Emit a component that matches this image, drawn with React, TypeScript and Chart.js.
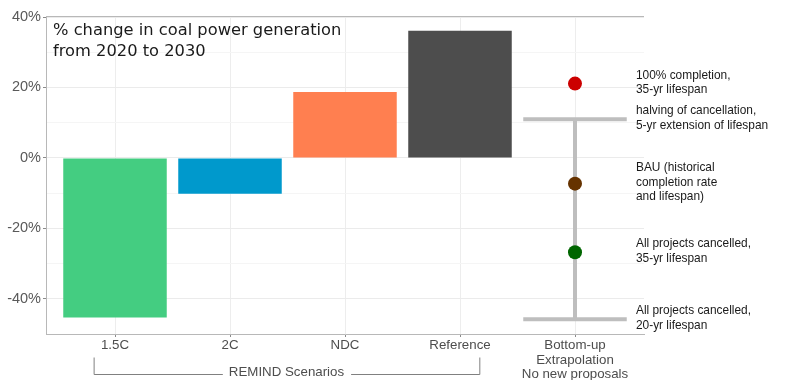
import React, { useEffect, useRef } from "react";
import { Chart, registerables } from "chart.js";

Chart.register(...registerables);

// ---------- data ----------
const categories: (string | string[])[] = [
  "1.5C",
  "2C",
  "NDC",
  "Reference",
  ["Bottom-up", "Extrapolation", "No new proposals"],
];
const barValues = [-45.3, -10.2, 18.7, 36.1];
const barColors = ["#44CD81", "#0099CC", "#FF7F50", "#4D4D4D"];

const pointCategory = 4;
const pointValues = [21.1, -7.3, -26.8];
const pointColors = ["#CC0000", "#663300", "#006600"];

const errorLow = -45.8;
const errorHigh = 11.0;

const annotationValues = [21.1, 11.0, -7.3, -26.8, -45.8];
const annotationLabels = [
  ["100% completion,", "35-yr lifespan"],
  ["halving of cancellation,", "5-yr extension of lifespan"],
  ["BAU (historical", "completion rate", "and lifespan)"],
  ["All projects cancelled,", "35-yr lifespan"],
  ["All projects cancelled,", "20-yr lifespan"],
];

const yTickLabels = [-40, -20, 0, 20, 40];
const titleLines = ["% change in coal power generation", "from 2020 to 2030"];
const groupLabel = "REMIND Scenarios";

// ---------- plugin ----------
const overlay = {
  id: "overlay",
  beforeDatasetsDraw(chart: any) {
    const { ctx, scales } = chart;
    const x = scales.x;
    const y = scales.y;
    const cx = x.getPixelForValue(pointCategory);
    const half = (x.getPixelForValue(1) - x.getPixelForValue(0)) * 0.45;
    const yt = y.getPixelForValue(errorHigh);
    const yb = y.getPixelForValue(errorLow);
    ctx.save();
    ctx.strokeStyle = "#BEBEBE";
    ctx.lineWidth = 4;
    ctx.beginPath();
    ctx.moveTo(cx, yt);
    ctx.lineTo(cx, yb);
    ctx.moveTo(cx - half, yt);
    ctx.lineTo(cx + half, yt);
    ctx.moveTo(cx - half, yb);
    ctx.lineTo(cx + half, yb);
    ctx.stroke();
    ctx.restore();
  },
  afterDraw(chart: any) {
    const { ctx, chartArea, scales } = chart;
    const x = scales.x;
    const y = scales.y;
    ctx.save();
    // top border
    ctx.strokeStyle = "#B8B8B8";
    ctx.lineWidth = 1;
    ctx.beginPath();
    ctx.moveTo(chartArea.left, chartArea.top + 0.5);
    ctx.lineTo(chartArea.right, chartArea.top + 0.5);
    ctx.stroke();

    // title
    ctx.fillStyle = "#1A1A1A";
    ctx.font = "16.3px 'DejaVu Sans'";
    ctx.textAlign = "left";
    ctx.textBaseline = "alphabetic";
    titleLines.forEach((t, i) => {
      ctx.fillText(t, chartArea.left + 7, chartArea.top + 19 + i * 20.7);
    });

    // annotations
    ctx.font = "11.9px 'Liberation Sans'";
    ctx.fillStyle = "#1A1A1A";
    ctx.textBaseline = "middle";
    const ax = x.getPixelForValue(pointCategory + 0.53);
    const lh = 14.5;
    annotationValues.forEach((v, i) => {
      const lines = annotationLabels[i];
      const cy = y.getPixelForValue(v) - 1;
      const start = cy - ((lines.length - 1) * lh) / 2;
      lines.forEach((l, j) => ctx.fillText(l, ax, start + j * lh));
    });

    // bracket
    const bl = x.getPixelForValue(-0.186);
    const br = x.getPixelForValue(3.168);
    const by = chartArea.bottom + 40;
    const bt = chartArea.bottom + 23.5;
    ctx.font = "13.3px 'Liberation Sans'";
    const tw = ctx.measureText(groupLabel).width;
    const mid = (bl + br) / 2;
    ctx.strokeStyle = "#808080";
    ctx.lineWidth = 1;
    ctx.beginPath();
    ctx.moveTo(bl + 0.5, bt);
    ctx.lineTo(bl + 0.5, by + 0.5);
    ctx.lineTo(mid - tw / 2 - 6, by + 0.5);
    ctx.moveTo(mid + tw / 2 + 7, by + 0.5);
    ctx.lineTo(br + 0.5, by + 0.5);
    ctx.lineTo(br + 0.5, bt);
    ctx.stroke();
    ctx.fillStyle = "#4D4D4D";
    ctx.textAlign = "center";
    ctx.textBaseline = "alphabetic";
    ctx.fillText(groupLabel, mid, by + 1.5);
    ctx.restore();
  },
};

export default function App() {
  const ref = useRef<HTMLCanvasElement | null>(null);
  useEffect(() => {
    if (!ref.current) return;
    const datasets: any[] = [
      {
        type: "bar",
        data: barValues.map((v, i) => ({ x: i, y: v })),
        backgroundColor: barColors,
        barPercentage: 0.9,
        categoryPercentage: 1,
        borderWidth: 0,
      },
      ...pointValues.map((v, i) => ({
        type: "line",
        data: [{ x: pointCategory, y: v }],
        showLine: false,
        pointRadius: 7,
        pointHoverRadius: 7,
        pointBackgroundColor: pointColors[i],
        pointBorderColor: pointColors[i],
        pointBorderWidth: 0,
      })),
    ];
    const chart = new Chart(ref.current, {
      type: "bar",
      data: { datasets },
      plugins: [overlay],
      options: {
        animation: false,
        responsive: false,
        devicePixelRatio: 1,
        layout: { padding: { top: 16, right: 143, bottom: 0, left: 0 } },
        plugins: { legend: { display: false }, tooltip: { enabled: false } },
        scales: {
          x: {
            type: "linear",
            offset: false,
            min: -0.6,
            max: 4.6,
            afterFit: (s: any) => {
              s.height = 46;
            },
            ticks: {
              stepSize: 1,
              includeBounds: false,
              autoSkip: false,
              maxRotation: 0,
              padding: 1.5,
              color: "#4D4D4D",
              font: { family: "'Liberation Sans'", size: 13.3, lineHeight: 1.09 },
              callback: (v: any) => categories[v] ?? "",
            },
            grid: {
              offset: false,
              color: "#EDEDED",
              tickColor: "#8A8A8A",
              tickLength: 3,
            },
            border: { color: "#B8B8B8", width: 1 },
          },
          y: {
            type: "linear",
            min: -50,
            max: 40.3,
            afterFit: (s: any) => {
              s.width = 46;
            },
            ticks: {
              stepSize: 10,
              includeBounds: false,
              autoSkip: false,
              padding: 2,
              color: "#595959",
              font: { family: "'Liberation Sans'", size: 14.5 },
              callback: (v: any) => (yTickLabels.includes(v) ? `${v}%` : ""),
            },
            grid: {
              color: (c: any) =>
                c.tick && yTickLabels.includes(c.tick.value) ? "#EBEBEB" : "#F5F5F5",
              tickColor: (c: any) =>
                c.tick && yTickLabels.includes(c.tick.value) ? "#8A8A8A" : "rgba(0,0,0,0)",
              tickLength: 3,
            },
            border: { color: "#B8B8B8", width: 1 },
          },
        },
      } as any,
    });
    return () => chart.destroy();
  }, []);
  return (
    <div style={{ position: "absolute", left: 0, top: 0, width: 787, height: 380 }}>
      <canvas ref={ref} width={787} height={380} />
    </div>
  );
}
